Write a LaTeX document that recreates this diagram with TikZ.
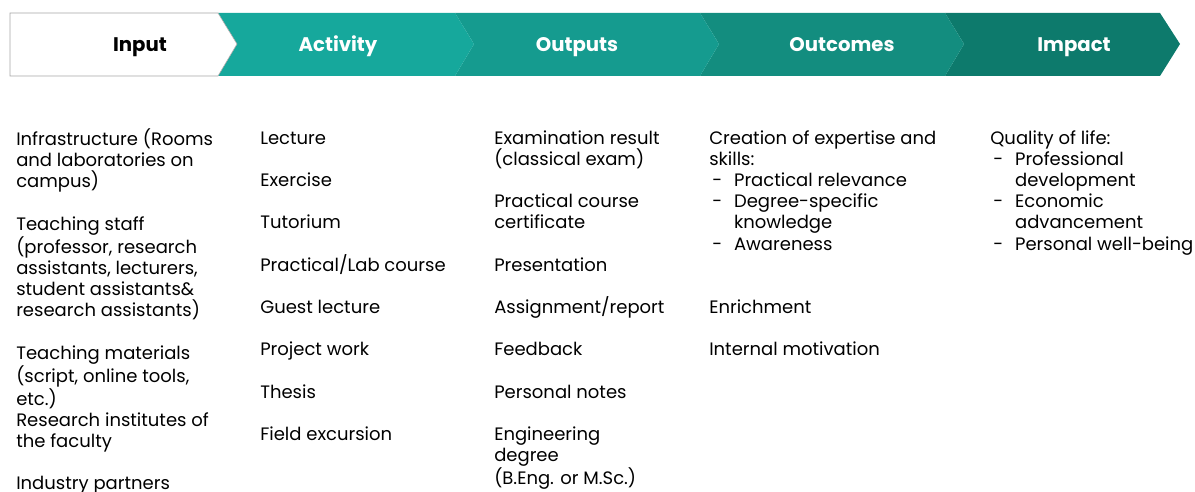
\documentclass[tikz,border=0pt]{standalone}
\usepackage{fontspec}
\setmainfont{Poppins}
\usetikzlibrary{positioning}

\definecolor{tealAct}{RGB}{22,168,156}
\definecolor{tealOut}{RGB}{21,155,143}
\definecolor{tealOcm}{RGB}{19,141,127}
\definecolor{tealImp}{RGB}{13,122,108}

\newcommand{\dashitem}[1]{\makebox[0.62cm][l]{\hspace*{0.08cm}-}#1}
\newcommand{\dashcont}[1]{\hspace*{0.62cm}#1}
\newcommand{\firstline}{\rule{0pt}{11pt}}

\begin{document}
\begin{tikzpicture}[
    x=0.025cm, y=-0.025cm,
    stage/.style={font=\bfseries\fontsize{14}{16}\selectfont, text=white, anchor=base, inner sep=0pt},
    col/.style={anchor=north west, align=left, inner sep=0pt, font=\fontsize{12.8}{15.05}\selectfont}
]
\useasboundingbox (0,0) rectangle (1195,492);

% Header band
\fill[tealImp] (945,13) -- (1160,13) -- (1180,44) -- (1160,76) -- (945,76) -- (964,44) -- cycle;
\fill[tealOcm] (700,13) -- (945,13) -- (964,44) -- (945,76) -- (700,76) -- (719,44) -- cycle;
\fill[tealOut] (455,13) -- (700,13) -- (719,44) -- (700,76) -- (455,76) -- (474,44) -- cycle;
\fill[tealAct] (218,13) -- (455,13) -- (474,44) -- (455,76) -- (218,76) -- (237,44) -- cycle;
\draw[gray!70, fill=white] (10,13) -- (218,13) -- (237,44) -- (218,76) -- (10,76) -- cycle;

\node[stage, text=black] (input) at (140,51.5) {Input};
\node[stage] (activity) at (338,51.5) {Activity};
\node[stage] (outputs) at (577,51.5) {Outputs};
\node[stage] (outcomes) at (842,51.5) {Outcomes};
\node[stage] (impact) at (1074,51.5) {Impact};

% Columns
\node[col] (inputcol) at (16,128.5) {\firstline Infrastructure (Rooms\\and laboratories on\\campus)\\~\\Teaching staff\\(professor, research\\assistants, lecturers,\\student assistants\&\\research assistants)\\~\\Teaching materials\\(script, online tools,\\etc.)\\Research institutes of\\the faculty\\~\\Industry partners};

\node[col] (activitycol) at (260,128.5) {\firstline Lecture\\~\\Exercise\\~\\Tutorium\\~\\Practical/Lab course\\~\\Guest lecture\\~\\Project work\\~\\Thesis\\~\\Field excursion};

\node[col] (outputscol) at (494,128.5) {\firstline Examination result\\(classical exam)\\~\\Practical course\\certificate\\~\\Presentation\\~\\Assignment/report\\~\\Feedback\\~\\Personal notes\\~\\Engineering\\degree\\(B.Eng. or M.Sc.)};

\node[col] (outcomescol) at (709,128.5) {\firstline Creation of expertise and\\skills:\\\dashitem{Practical relevance}\\\dashitem{Degree-specific}\\\dashcont{knowledge}\\\dashitem{Awareness}\\~\\~\\Enrichment\\~\\Internal motivation};

\node[col] (impactcol) at (990,128.5) {\firstline Quality of life:\\\dashitem{Professional}\\\dashcont{development}\\\dashitem{Economic}\\\dashcont{advancement}\\\dashitem{Personal well-being}};

\end{tikzpicture}
\end{document}
